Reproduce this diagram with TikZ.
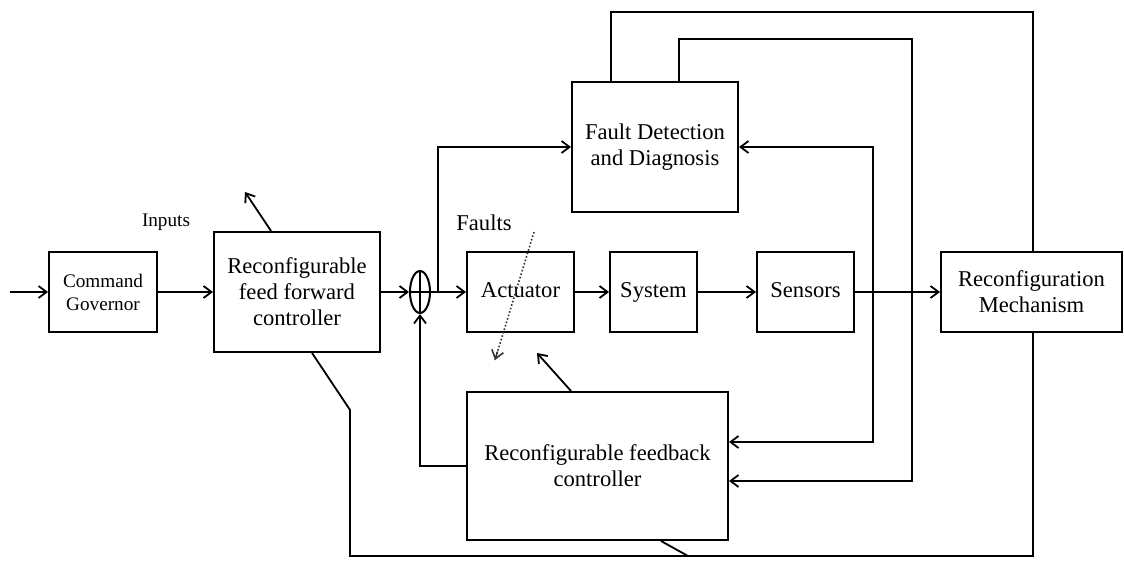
\documentclass[tikz,border=0pt]{standalone}
\usepackage{fontspec}
\setmainfont{Liberation Serif}
\usepackage{tikz}
\usetikzlibrary{arrows.meta,shapes.geometric}

\begin{document}
\begin{tikzpicture}[x=0.5pt, y=-0.5pt, >={Straight Barb[length=4pt,width=6pt]},
    line width=0.9pt,
    blockbox/.style={draw, line width=1pt, align=center, inner sep=2pt, font=\fontsize{11.3}{13}\selectfont},
    onebox/.style={blockbox, text height=1.6ex, text depth=0.3ex},
    smallbox/.style={blockbox, font=\fontsize{9.6}{11.5}\selectfont},
    sumnode/.style={draw, ellipse, line width=1pt, minimum width=10pt, minimum height=21pt, inner sep=0pt}]
    \useasboundingbox (0,0) rectangle (1124,561);

    % Blocks
    \node[smallbox, minimum width=54pt, minimum height=40pt] (gov) at (103,292) {Command\\Governor};
    \node[blockbox, minimum width=83pt, minimum height=60pt] (ffc) at (297,292) {Reconfigurable\\feed forward\\controller};
    \node[sumnode] (sum) at (420,292) {};
    \node[onebox, minimum width=53.5pt, minimum height=40pt] (act) at (520.5,292) {Actuator};
    \node[onebox, minimum width=43.5pt, minimum height=40pt] (sys) at (653.5,292) {System};
    \node[onebox, minimum width=48.5pt, minimum height=40pt] (sen) at (805.5,292) {Sensors};
    \node[blockbox, minimum width=90.5pt, minimum height=40pt] (mech) at (1031.5,292) {Reconfiguration\\Mechanism};
    \node[blockbox, minimum width=83pt, minimum height=65pt] (fdd) at (655,147) {Fault Detection\\and Diagnosis};
    \node[blockbox, minimum width=130.5pt, minimum height=74pt] (fbc) at (597.5,466) {Reconfigurable feedback\\controller};

    % Labels
    \node[font=\fontsize{9.6}{11.5}\selectfont] (inlbl) at (166,222) {Inputs};
    \node[font=\fontsize{11.3}{13}\selectfont] (faultlbl) at (484,223) {Faults};

    % Forward path
    \coordinate (in) at (10,292);
    \draw[->] (in) -- (gov.west);
    \draw[->] (gov) -- (ffc);
    \draw[->] (ffc) -- (sum.west);
    \draw (sum.west) -- (sum.east) (sum.north) -- (sum.south);
    \draw[->] (sum.east) -- (act.west);
    \draw[->] (act) -- (sys);
    \draw[->] (sys) -- (sen);
    \draw[->] (sen) -- (mech);

    % Branch to diagnosis
    \coordinate (split) at (438,292);
    \draw[->] (split) |- (fdd.west);

    % Sensor taps
    \coordinate (tap) at (873,292);
    \draw[->] (tap) |- (fdd.east);
    \draw[->] (tap) |- ([yshift=12pt]fbc.east);

    % Feedback
    \draw[->] (fbc.west) -| (sum.south);

    % Loops over the top
    \draw ([xshift=20pt]fdd.north west) |- (1033,12) -- (mech.north -| 1033,0);
    \draw[->] ([xshift=54pt]fdd.north west) |- (912,39) |- ([yshift=-7.5pt]fbc.east);

    % Loop along the bottom
    \draw (mech.south -| 1033,0) |- (350,556) -- (350,410) -- ([xshift=49.5pt]ffc.south west);
    \draw ([xshift=97.5pt]fbc.south west) -- (688,556);

    % Tuning arrows
    \draw[->] ([xshift=29pt]ffc.north west) -- (245,192);
    \draw[->] ([xshift=52.5pt]fbc.north west) -- (537,353);

    % Faults
    \coordinate (fstart) at (534,232);
    \coordinate (fend) at (495,360);
    \draw[densely dotted, line width=0.8pt, black!80] (fstart) -- (fend);
    \draw[->, line width=0.8pt, black!80] (497.5,351.5) -- (fend);
\end{tikzpicture}
\end{document}
